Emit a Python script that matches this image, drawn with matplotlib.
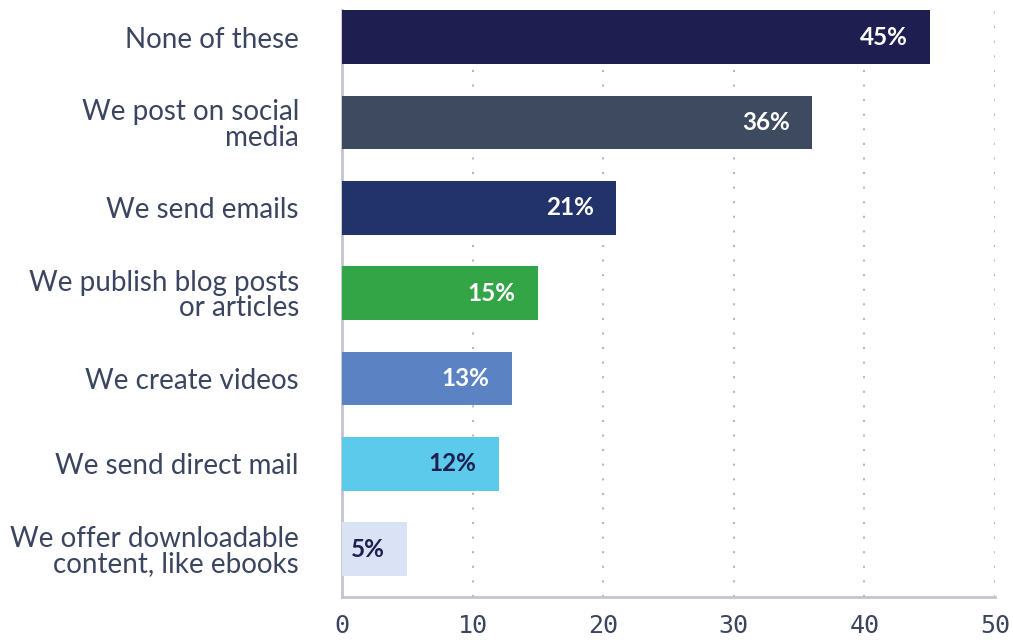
import matplotlib.pyplot as plt
import matplotlib as mpl

mpl.rcParams['font.family'] = ['Lato', 'DejaVu Sans']

categories = [
    "None of these",
    "We post on social\nmedia",
    "We send emails",
    "We publish blog posts\nor articles",
    "We create videos",
    "We send direct mail",
    "We offer downloadable\ncontent, like ebooks",
]
values = [45, 36, 21, 15, 13, 12, 5]
bar_colors = ["#1e1f50", "#3d4a60", "#22336b", "#34a547",
              "#5b83c3", "#5ccbeb", "#dae3f5"]
label_colors = ["white", "white", "white", "white",
                "white", "#1e1f50", "#1e1f50"]
xticks = [0, 10, 20, 30, 40, 50]

text_color = "#3b4560"

fig = plt.figure(figsize=(10.13, 6.40), dpi=100)
ax = fig.add_axes([342 / 1013, 1 - 597 / 640, (995 - 342) / 1013, (597 - 10) / 640])

y_pos = list(range(len(categories)))
ax.barh(y_pos, values, height=0.63, color=bar_colors, zorder=3)

for y, v, c in zip(y_pos, values, label_colors):
    ax.annotate(f"{v}%", xy=(v, y), xytext=(-16, 0), textcoords="offset points",
                ha="right", va="center", color=c, fontsize=17.5, fontweight="bold",
                zorder=4)

ax.set_xlim(0, 50)
ax.set_ylim(6.56, -0.32)
ax.set_xticks(xticks)
ax.set_xticklabels([str(t) for t in xticks], family="DejaVu Sans Mono",
                   fontsize=18, color=text_color)
ax.set_yticks(y_pos)
ax.set_yticklabels(categories, fontsize=20, color=text_color,
                   linespacing=0.98)
ax.tick_params(axis="y", length=0, pad=31)
ax.tick_params(axis="x", length=0, pad=12)

ax.grid(axis="x", linestyle=(0, (1, 6)), color="#b8b8c0", linewidth=1.5, zorder=0)
ax.grid(axis="y", visible=False)

for side in ["top", "right"]:
    ax.spines[side].set_visible(False)
for side in ["left", "bottom"]:
    ax.spines[side].set_color("#c4c4cf")
    ax.spines[side].set_linewidth(2)

fig.savefig("out.png", dpi=100)
